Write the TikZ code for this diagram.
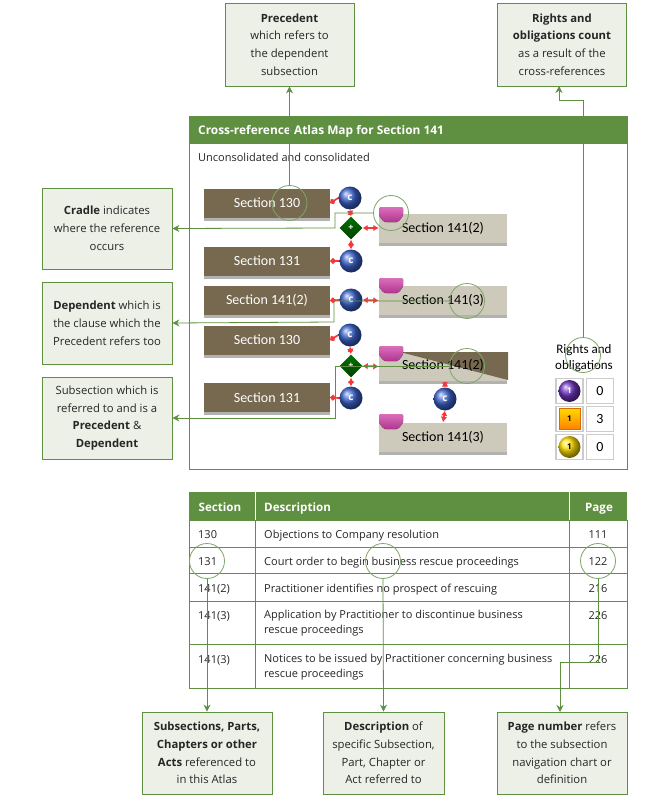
\documentclass[tikz,border=0pt]{standalone}
\usepackage{fontspec}
\setmainfont{Open Sans}
\newfontfamily\secfont{Carlito}
\usetikzlibrary{arrows.meta,shadows,shapes.geometric,calc}
\definecolor{gr}{HTML}{5F8F41}
\definecolor{grl}{HTML}{7FA668}
\definecolor{callfill}{HTML}{EDF0E6}
\definecolor{brn}{HTML}{76694F}
\definecolor{bge}{HTML}{CDCABB}
\definecolor{redc}{HTML}{F5363A}
\definecolor{blueb}{HTML}{3A62CC}
\definecolor{cupc}{HTML}{CF3FA6}
\tikzset{
 x=1pt,y=-1pt,
 call/.style={draw=gr,line width=.8pt,fill=callfill,minimum width=#1,inner sep=2pt,align=center,font=\fontsize{11.3}{17.8}\selectfont,text=black!85},
 sbrown/.style={fill=brn,text=white,minimum width=126pt,minimum height=29pt,inner sep=0pt,font=\secfont\fontsize{14}{15}\selectfont,general shadow={shadow xshift=0pt,shadow yshift=-3pt,fill=black!30}},
 sbeige/.style={fill=bge,text=black,minimum width=128pt,minimum height=29pt,inner sep=0pt,font=\secfont\fontsize{14}{15}\selectfont,general shadow={shadow xshift=0pt,shadow yshift=-3pt,fill=black!30}},
 cball/.style={circle,minimum size=23pt,inner sep=0pt,shading=ball,ball color=blueb,text=white,font=\bfseries\fontsize{10}{10}\selectfont},
 dball/.style={diamond,minimum size=23pt,inner sep=0pt,top color=green!45!black,bottom color=green!25!black,text=white,font=\bfseries\fontsize{9}{9}\selectfont},
 cup/.style={top color=cupc!75!white,bottom color=cupc!85!black,draw=none},
 ring/.style={circle,draw=grl,line width=.8pt,minimum size=35pt,inner sep=0pt},
 redl/.style={draw=redc,line width=1.7pt,{Circle[length=5.5pt]}-},
 redd/.style={draw=redc,line width=1.7pt,{Latex[length=5pt,width=6.5pt]}-{Latex[length=5.5pt,width=6.5pt]}},
 gline/.style={draw=gr,line width=.8pt,-{Stealth[length=7pt,width=7pt]}},
 tline/.style={draw=gr,line width=.8pt},
 cell/.style={draw=black!20,line width=1.2pt,inner sep=0pt,fill=white},
 ttext/.style={anchor=base west,inner sep=0pt,font=\fontsize{11}{14.5}\selectfont,text=black!85,align=left},
 thead/.style={inner sep=0pt,anchor=base,text=white,font=\bfseries\fontsize{11.6}{13}\selectfont},
}
\begin{document}
\begin{tikzpicture}
\useasboundingbox (0,0) rectangle (657,805);
\fill[white] (0,0) rectangle (657,805);
% map panel
\draw[tline] (189,116) rectangle (627,469);
\fill[gr] (189,116) rectangle (627,144);
\node[anchor=base west,inner sep=0pt,text=white,font=\bfseries\fontsize{11.9}{13}\selectfont] (maptitle) at (198,135) {Cross-reference Atlas Map for Section 141};
\node[anchor=base west,inner sep=0pt,font=\fontsize{11}{13}\selectfont,text=black!85] (mapsub) at (198,161.5) {Unconsolidated and consolidated};
% section boxes
\node[sbrown] (a1) at (267,203) {Section 130};
\node[sbrown] (a2) at (267,261) {Section 131};
\node[sbrown] (a3) at (267,300.5) {Section 141(2)};
\node[sbrown] (a4) at (267,340) {Section 130};
\node[sbrown] (a5) at (267,397.5) {Section 131};
\node[sbeige] (b1) at (443,228) {Section 141(2)};
\node[sbeige] (b2) at (443,300.5) {Section 141(3)};
\node[sbeige] (b3) at (443,366.5) {};
\fill[brn] (400,352) -- (508,352) -- (508,380) -- cycle;
\node[inner sep=0pt,font=\secfont\fontsize{14}{15}\selectfont] (b3t) at (443,365) {Section 141(2)};
\node[sbeige] (b4) at (443,437) {Section 141(3)};
% balls
\node[cball] (c1) at (350,198) {c};
\node[cball] (c2) at (351,261) {c};
\node[cball] (c3) at (351,300) {c};
\node[cball] (c4) at (350,335) {c};
\node[cball] (c5) at (351,398) {c};
\node[cball] (c6) at (445,399) {c};
\node[dball] (d1) at (351,228) {+};
\node[dball] (d2) at (351,366) {+};
% red connectors
\draw[redl] (a1.east) -- (c1.west);
\draw[redl] (a2.east) -- (c2.west);
\draw[redl] (a3.east) -- (c3.west);
\draw[redl] (a4.east) -- (c4.west);
\draw[redl] (a5.east) -- (c5.west);
\draw[redd] (c1.south) -- (d1.north);
\draw[redd] (c2.north) -- (d1.south);
\draw[redd] (c4.south) -- (d2.north);
\draw[redd] (c5.north) -- (d2.south);
\draw[redd] (d1.east) -- (b1.west);
\draw[redd] (c3.east) -- (b2.west);
\draw[redd] (d2.east) -- (b3.west);
\draw[redd] (c6.north) -- (445,381);
\draw[redd] (c6.south) -- (b4.north);
% cups
\foreach \cx/\cy in {379/207,379/278,379/346,379/414}{
 \fill[cup,rounded corners=1.5pt] (\cx,\cy) -- ++(24,0) -- ++(0,9) -- ++(-5,6) -- ++(-14,0) -- ++(-5,-6) -- cycle;
}
% legend
\node[inner sep=0pt,align=center,font=\secfont\fontsize{13}{16}\selectfont] (rolabel) at (584,358) {Rights and\\obligations};
\node[cell,minimum width=27pt,minimum height=25pt] (l1) at (569.5,391) {};
\node[cell,minimum width=27pt,minimum height=25pt] (l2) at (569.5,419) {};
\node[cell,minimum width=27pt,minimum height=25pt] (l3) at (569.5,447) {};
\node[cell,minimum width=27pt,minimum height=25pt,font=\secfont\fontsize{14}{15}\selectfont] (v1) at (600,391) {0};
\node[cell,minimum width=27pt,minimum height=25pt,font=\secfont\fontsize{14}{15}\selectfont] (v2) at (600,419) {3};
\node[cell,minimum width=27pt,minimum height=25pt,font=\secfont\fontsize{14}{15}\selectfont] (v3) at (600,447) {0};
\node[circle,minimum size=22pt,inner sep=0pt,shading=ball,ball color=violet!60!blue!80!white,text=white,font=\bfseries\fontsize{8}{8}\selectfont] (i1) at (l1) {1};
\node[minimum size=21pt,inner sep=0pt,draw=orange!85!black,line width=1pt,top color=yellow!70!orange,bottom color=orange,font=\bfseries\fontsize{8}{8}\selectfont] (i2) at (l2) {1};
\node[circle,minimum size=22pt,inner sep=0pt,shading=ball,ball color=yellow!75!orange,font=\bfseries\fontsize{8}{8}\selectfont] (i3) at (l3) {1};
% table
\fill[gr] (189,492) rectangle (627,520);
\draw[white,line width=.8pt] (255.5,492) -- (255.5,520) (569,492) -- (569,520);
\draw[tline] (189,520) rectangle (627,688);
\draw[tline] (189,547) -- (627,547) (189,573) -- (627,573) (189,601) -- (627,601) (189,644) -- (627,644);
\draw[tline] (255.5,520) -- (255.5,688) (569,520) -- (569,688);
\node[thead] (h1) at (220,511) {Section};
\node[thead,anchor=base west] (h2) at (264,511) {Description};
\node[thead] (h3) at (599,511) {Page};
\node[ttext] (r1a) at (198,538) {130};
\node[ttext] (r1b) at (264,538) {Objections to Company resolution};
\node[ttext] (r2a) at (198,565) {131};
\node[ttext] (r2b) at (264,565) {Court order to begin business rescue proceedings};
\node[ttext] (r3a) at (198,592) {141(2)};
\node[ttext] (r3b) at (264,592) {Practitioner identifies no prospect of rescuing};
\node[ttext] (r4a) at (198,619) {141(3)};
\node[ttext,anchor=west] (r4b) at (264,623) {Application by Practitioner to discontinue business\\rescue proceedings};
\node[ttext] (r5a) at (198,663) {141(3)};
\node[ttext,anchor=west] (r5b) at (264,667) {Notices to be issued by Practitioner concerning business\\rescue proceedings};
\foreach \n/\t/\yy in {p1/111/538,p2/122/565,p3/216/592,p4/226/619,p5/226/663}{
 \node[ttext,anchor=base] (\n) at (598,\yy) {\t};
}
% callouts
\node[call=129pt,minimum height=83pt] (k1) at (289.5,44.5) {\textbf{Precedent}\\which refers to\\the dependent\\subsection};
\node[call=129pt,minimum height=83pt] (k2) at (562,44.5) {\textbf{Rights and}\\\textbf{obligations count}\\as a result of the\\cross-references};
\node[call=130pt,minimum height=81pt] (k3) at (107,228.5) {\textbf{Cradle} indicates\\where the reference\\occurs};
\node[call=130pt,minimum height=82pt] (k4) at (107,323) {\textbf{Dependent} which is\\the clause which the\\Precedent refers too};
\node[call=130pt,minimum height=82pt] (k5) at (107,418) {Subsection which is\\referred to and is a\\\textbf{Precedent} \&\\\textbf{Dependent}};
\node[call=130pt,minimum height=82pt] (k6) at (207,753) {\textbf{Subsections, Parts,}\\\textbf{Chapters or other}\\\textbf{Acts} referenced to\\in this Atlas};
\node[call=121pt,minimum height=82pt] (k7) at (383.5,753) {\textbf{Description} of\\specific Subsection,\\Part, Chapter or\\Act referred to};
\node[call=130pt,minimum height=82pt] (k8) at (562,753) {\textbf{Page number} refers\\to the subsection\\navigation chart or\\definition};
% rings
\node[ring] (o1) at (289.5,203) {};
\node[ring] (o2) at (391,213) {};
\node[ring] (o3) at (467,301) {};
\node[ring] (o4) at (467,366) {};
\node[ring] (o5) at (583,355) {};
\node[ring] (o6) at (207,561) {};
\node[ring] (o7) at (383,561) {};
\node[ring] (o8) at (598,561) {};
\coordinate (k2in) at (559,86);
\coordinate (k8in) at (560,712);
% green connectors
\draw[gline] (o1.north) -- (k1.south);
\draw[gline] (o5.north) |- (559,100) -- (k2in);
\draw[gline] (o2.west) -| (335,228) -- (k3.east);
\draw[gline] (o3.west) -| (334,322) -- (k4.east);
\draw[gline] (o4.west) -| (335,418) -- (k5.east);
\draw[gline] (o6.south) -- (k6.north);
\draw[gline] (o7.south) -- (k7.north);
\draw[gline] (o8.south) |- (560,662) -- (k8in);
\end{tikzpicture}
\end{document}
